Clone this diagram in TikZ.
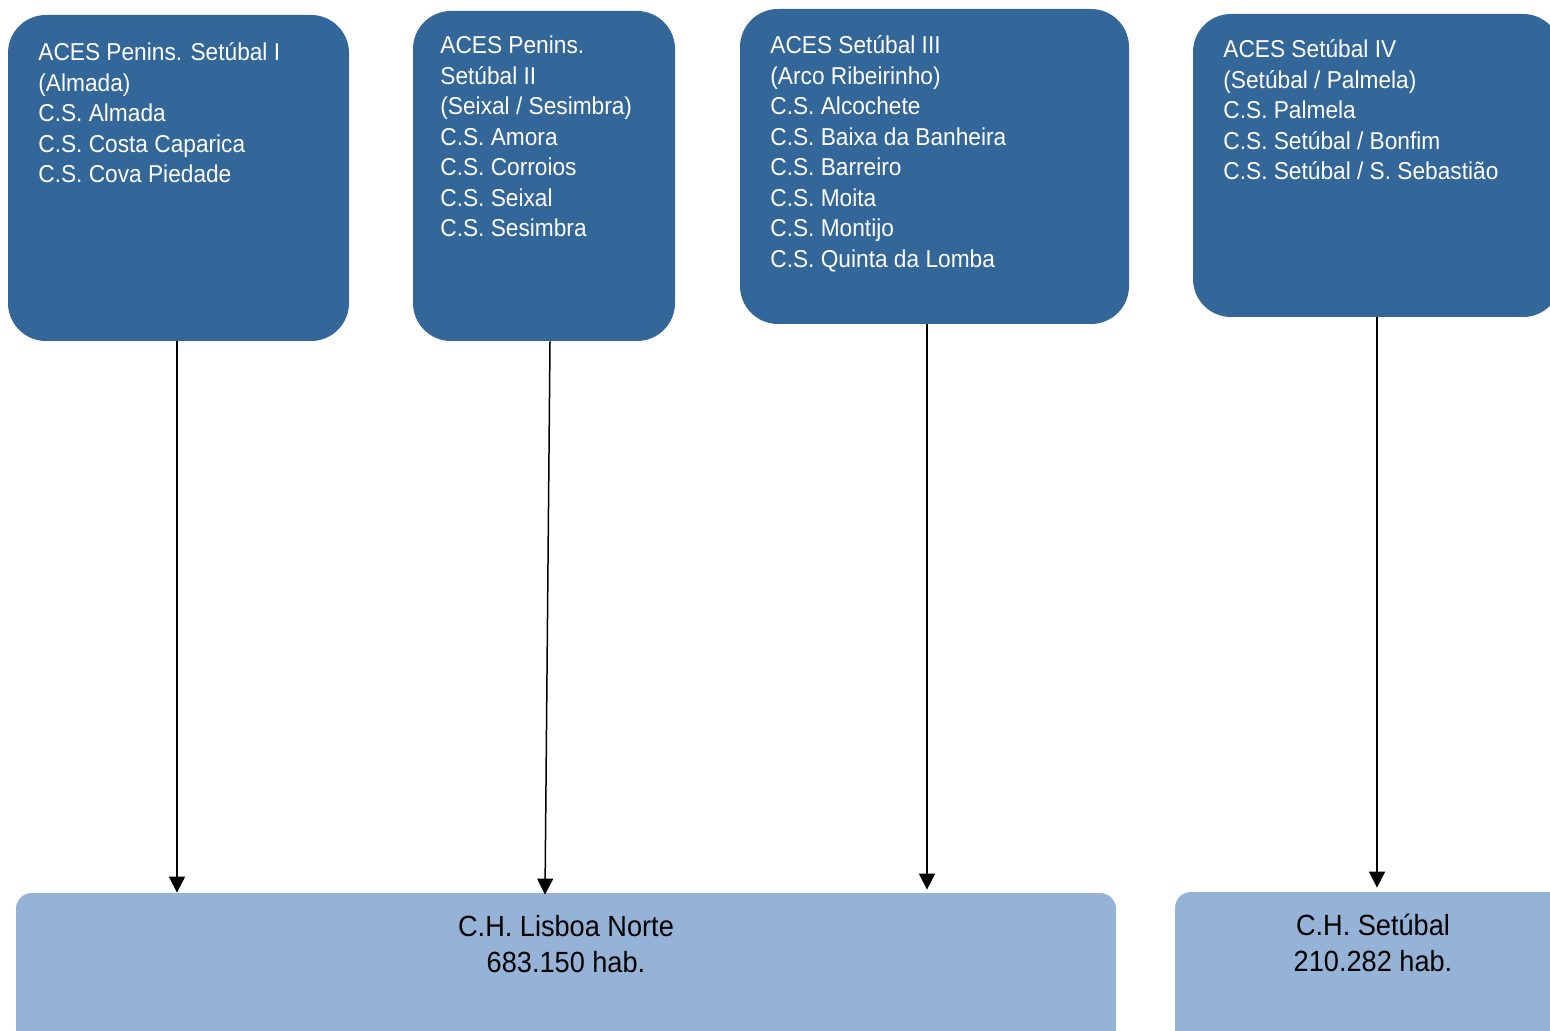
\documentclass[tikz,border=0pt]{standalone}
\usepackage{fontspec}
\setmainfont{Liberation Sans}[FakeStretch=0.93]
\usetikzlibrary{arrows.meta}
\definecolor{dark}{HTML}{336699}
\definecolor{light}{HTML}{95B3D7}
\begin{document}
\begin{tikzpicture}[x=0.5pt,y=-0.5pt,
  dbox/.style={draw=none,fill=dark,rounded corners=19pt,inner sep=0pt},
  lbox/.style={draw=none,fill=light,rounded corners=8pt,inner sep=0pt},
  dtext/.style={anchor=north west,inner sep=0pt,align=left,text=white,
    font=\fontsize{12.2pt}{15.25pt}\selectfont},
  ltext/.style={anchor=north,inner sep=0pt,align=center,text=black,
    font=\fontsize{14.6pt}{18pt}\selectfont},
  arr/.style={line width=0.75pt,-{Triangle[length=8pt,width=8pt]}}]
\useasboundingbox (0,0) rectangle (1550,1031);
\begin{scope}
\clip (0,0) rectangle (1550,1031);
% top boxes
\node[dbox,minimum width=170.5pt,minimum height=163pt] (b1) at (178.5,178) {};
\node[dbox,minimum width=131pt,minimum height=165pt] (b2) at (544,176) {};
\node[dbox,minimum width=194.5pt,minimum height=157.5pt] (b3) at (934.5,166.5) {};
\node[dbox,minimum width=184pt,minimum height=151.5pt] (b4) at (1377,165.5) {};
% bottom boxes
\node[lbox,minimum width=550pt,minimum height=83.5pt] (l1) at (566,976.5) {};
\node[lbox,minimum width=198pt,minimum height=84pt] (l2) at (1373,976) {};
\end{scope}
% texts
\newcommand{\tstrut}{\rule{0pt}{12.2pt}}
\node[dtext] (t1) at (38,36) {\tstrut ACES Penins. Setúbal I\\(Almada)\\C.S. Almada\\C.S. Costa Caparica\\C.S. Cova Piedade};
\node[dtext] (t2) at (440,29) {\tstrut ACES Penins.\\Setúbal II\\(Seixal / Sesimbra)\\C.S. Amora\\C.S. Corroios\\C.S. Seixal\\C.S. Sesimbra};
\node[dtext] (t3) at (770,29) {\tstrut ACES Setúbal III\\(Arco Ribeirinho)\\C.S. Alcochete\\C.S. Baixa da Banheira\\C.S. Barreiro\\C.S. Moita\\C.S. Montijo\\C.S. Quinta da Lomba};
\node[dtext] (t4) at (1223,33) {\tstrut ACES Setúbal IV\\(Setúbal / Palmela)\\C.S. Palmela\\C.S. Setúbal / Bonfim\\C.S. Setúbal / S. Sebastião};
\newcommand{\bstrut}{\rule{0pt}{14.6pt}}
\node[ltext] (u1) at (566,907) {\bstrut C.H. Lisboa Norte\\683.150 hab.};
\node[ltext] (u2) at (1373,906) {\bstrut C.H. Setúbal\\210.282 hab.};
% connectors
\draw[arr] ([xshift=-0.75pt]b1.south) -- ([xshift=-0.75pt]b1.south |- l1.north);
\draw[arr] ([xshift=3pt]b2.south) -- ([xshift=0.5pt,yshift=-1pt]b2.south |- l1.north);
\draw[arr] ([xshift=-3.75pt]b3.south) -- ([xshift=-3.75pt,yshift=1.5pt]b3.south |- l1.north);
\draw[arr] (b4.south) -- ([yshift=2pt]b4.south |- l2.north);
\end{tikzpicture}
\end{document}
